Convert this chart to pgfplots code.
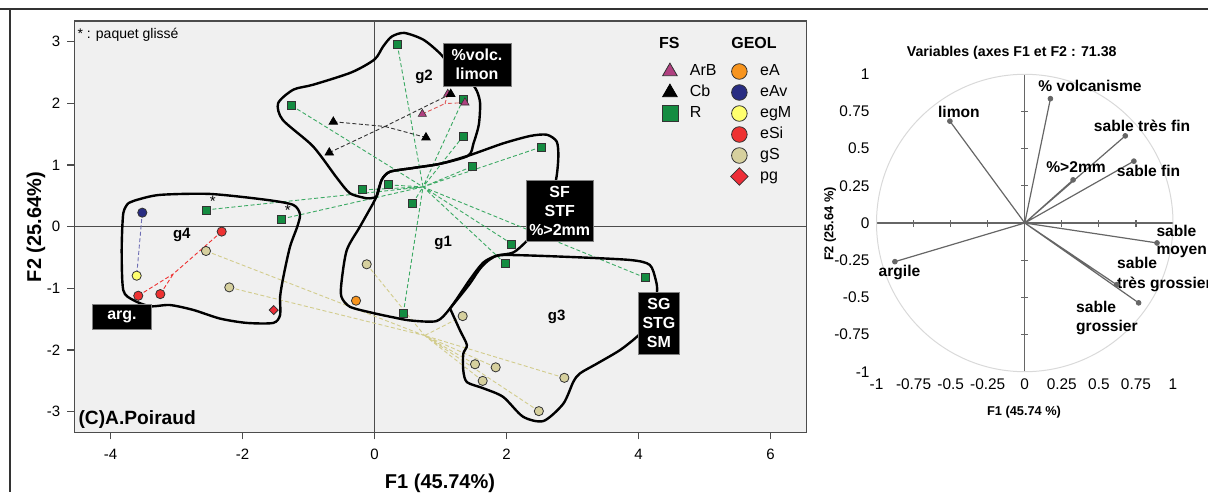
\documentclass[border=0pt]{standalone}
\usepackage{pgfplots}
\pgfplotsset{compat=1.18}
\usepackage{fontspec}
\setmainfont{Liberation Sans}
\setsansfont{Liberation Sans}
\definecolor{cR}{RGB}{20,140,65}
\definecolor{cArB}{RGB}{176,64,128}
\definecolor{ceA}{RGB}{247,148,30}
\definecolor{ceAv}{RGB}{40,44,130}
\definecolor{cegM}{RGB}{255,255,110}
\definecolor{ceSi}{RGB}{238,50,50}
\definecolor{cgS}{RGB}{214,208,158}
\definecolor{cpg}{RGB}{238,45,55}
\definecolor{bgc}{RGB}{240,240,240}
\definecolor{lR}{RGB}{60,170,100}
\definecolor{lgS}{RGB}{210,204,140}
\definecolor{lArB}{RGB}{225,90,90}
\definecolor{leAv}{RGB}{110,110,180}
\begin{document}
\begin{tikzpicture}
\useasboundingbox (0pt,0pt) rectangle (604pt,-246pt);
\draw[black!80, line width=0.7pt] (0pt,-4.5pt) -- (604pt,-4.5pt);
\draw[black!80, line width=0.7pt] (5pt,-4.5pt) -- (5pt,-246pt);
\begin{axis}[
  at={(37.15pt,-216.15pt)}, anchor=south west,
  width=366.2pt, height=205.65pt, scale only axis,
  xmin=-4.548, xmax=6.548, ymin=-3.333, ymax=3.333,
  axis background/.style={fill=bgc},
  axis line style={black!70, line width=0.6pt},
  tick pos=left, tick align=outside, major tick length=3.5pt,
  tick style={black!70, line width=0.6pt},
  xtick={-4,-2,0,2,4,6}, xticklabels={-4,-2,0,2,4,6},
  ytick={-3,-2,-1,0,1,2,3}, yticklabels={-3,-2,-1,0,1,2,3},
  ticklabel style={font=\fontsize{7.5}{9}\selectfont},
  xticklabel style={yshift=-1.5pt},
  legend columns=2,
  legend style={at={(axis cs:4.12,2.74)}, anchor=north west, draw=none, fill=none,
    font=\fontsize{8}{9}\selectfont, row sep=1pt,
    nodes={inner sep=1pt, text height=6pt, text depth=1.5pt},
    /tikz/every odd column/.append style={column sep=5pt},
    /tikz/every even column/.append style={column sep=6pt}},
  legend cell align=left,
]
\draw[black!70, line width=0.5pt] (axis cs:0,-3.333) -- (axis cs:0,3.333);
\draw[black!70, line width=0.5pt] (axis cs:-4.548,0) -- (axis cs:6.548,0);
% dashed links to group centroids
\addplot[forget plot, lR, dash pattern=on 2pt off 1.2pt, line width=0.45pt, unbounded coords=jump] coordinates {
(0.345,2.955) (0.735,0.644) (nan,nan)
(-1.255,1.96) (0.735,0.644) (nan,nan)
(1.346,2.07) (0.735,0.644) (nan,nan)
(1.346,1.47) (0.735,0.644) (nan,nan)
(1.477,0.974) (0.735,0.644) (nan,nan)
(-0.18,0.596) (0.735,0.644) (nan,nan)
(0.21,0.677) (0.735,0.644) (nan,nan)
(0.58,0.38) (0.735,0.644) (nan,nan)
(-2.553,0.271) (0.735,0.644) (nan,nan)
(-1.406,0.125) (0.735,0.644) (nan,nan)
(2.523,1.29) (0.735,0.644) (nan,nan)
(2.08,-0.28) (0.735,0.644) (nan,nan)
(1.977,-0.595) (0.735,0.644) (nan,nan)
(4.103,-0.828) (0.735,0.644) (nan,nan)
(0.436,-1.406) (0.735,0.644)
};
\addplot[forget plot, black!80, dash pattern=on 2pt off 1.2pt, line width=0.45pt, unbounded coords=jump] coordinates {
(-0.624,1.70) (0.157,1.624) (nan,nan)
(-0.685,1.20) (0.157,1.624) (nan,nan)
(0.78,1.445) (0.157,1.624) (nan,nan)
(1.155,2.15) (0.157,1.624)
};
\addplot[forget plot, lArB, dash pattern=on 2pt off 1.2pt, line width=0.45pt, unbounded coords=jump] coordinates {
(1.11,2.15) (1.068,1.995) (nan,nan)
(0.725,1.825) (1.068,1.995) (nan,nan)
(1.37,2.01) (1.068,1.995)
};
\addplot[forget plot, ceSi, dash pattern=on 2pt off 1.2pt, line width=0.45pt, unbounded coords=jump] coordinates {
(-2.315,-0.08) (-3.046,-0.764) (nan,nan)
(-3.579,-1.12) (-3.046,-0.764) (nan,nan)
(-3.245,-1.093) (-3.046,-0.764)
};
\addplot[forget plot, leAv, dash pattern=on 2pt off 1.2pt, line width=0.45pt] coordinates {
(-3.518,0.227) (-3.603,-0.795)
};
\addplot[forget plot, lgS, dash pattern=on 2pt off 1.2pt, line width=0.45pt, unbounded coords=jump] coordinates {
(-2.553,-0.394) (0.759,-1.765) (nan,nan)
(-2.2,-0.984) (0.759,-1.765) (nan,nan)
(-0.118,-0.61) (0.759,-1.765) (nan,nan)
(1.336,-1.45) (0.759,-1.765) (nan,nan)
(1.523,-2.23) (0.759,-1.765) (nan,nan)
(1.836,-2.28) (0.759,-1.765) (nan,nan)
(1.639,-2.5) (0.759,-1.765) (nan,nan)
(2.876,-2.45) (0.759,-1.765) (nan,nan)
(2.49,-2.99) (0.759,-1.765)
};
% group outlines
\addplot[forget plot, black, line width=1.2pt, smooth, tension=0.45] coordinates {
(-0.12,0.46) (-0.37,0.54) (-0.57,0.79) (-0.93,1.30) (-1.39,1.73) (-1.46,2.0) (-1.23,2.22) (-0.93,2.30) (-0.35,2.5) (0.0,2.71) (0.13,2.92) (0.26,3.08) (0.45,3.14) (0.74,3.03) (0.99,2.81) (1.2,2.55) (1.45,2.35) (1.55,2.2) (1.6,2.0) (1.58,1.65) (1.5,1.35) (1.42,1.15) (1.0,1.02) (0.58,0.95) (0.235,0.89) (0.11,0.76) (0.03,0.49) (-0.12,0.46)
};
\addplot[forget plot, black, line width=1.2pt, smooth, tension=0.45] coordinates {
(0.03,0.49) (0.11,0.76) (0.235,0.89) (0.58,0.95) (1.0,1.02) (1.447,1.16) (1.95,1.35) (2.36,1.47) (2.61,1.49) (2.76,1.38) (2.785,1.14) (2.75,0.76) (2.6,0.1) (2.3,-0.24) (2.1,-0.42) (1.85,-0.47) (1.65,-0.58) (1.45,-0.85) (1.144,-1.325) (0.94,-1.53) (0.54,-1.52) (0.285,-1.47) (-0.02,-1.40) (-0.37,-1.30) (-0.50,-1.14) (-0.50,-0.9) (-0.42,-0.38) (-0.22,0.0) (-0.02,0.38) (0.03,0.49)
};
\addplot[forget plot, black, line width=1.2pt, smooth, tension=0.45] coordinates {
(1.144,-1.325) (1.3,-1.12) (1.447,-0.92) (1.6,-0.68) (1.75,-0.53) (1.95,-0.46) (2.86,-0.487) (3.87,-0.54) (4.17,-0.62) (4.26,-0.86) (4.28,-1.06) (4.2,-1.5) (4.0,-1.76) (3.72,-2.0) (3.37,-2.22) (3.11,-2.38) (3.01,-2.52) (2.86,-2.87) (2.56,-3.15) (2.25,-3.08) (1.95,-2.76) (1.65,-2.62) (1.40,-2.52) (1.345,-2.33) (1.345,-2.06) (1.40,-1.92) (1.295,-1.68) (1.144,-1.325)
};
\addplot[forget plot, black, line width=1.2pt, smooth, tension=0.45] coordinates {
(-3.73,0.38) (-3.6,0.434) (-3.25,0.515) (-2.49,0.53) (-1.633,0.434) (-1.23,0.352) (-1.129,0.2) (-1.17,0.0) (-1.28,-0.325) (-1.38,-0.81) (-1.43,-1.136) (-1.43,-1.43) (-1.533,-1.56) (-1.936,-1.56) (-2.34,-1.49) (-2.745,-1.35) (-3.1,-1.27) (-3.4,-1.29) (-3.655,-1.19) (-3.806,-1.03) (-3.83,-0.378) (-3.806,0.217) (-3.73,0.38)
};
% points
\addplot[forget plot, only marks, mark=square*, mark size=2pt, mark options={fill=cR, draw=black!80, line width=0.4pt}] coordinates {
(0.345,2.955) (-1.255,1.96) (1.346,2.07) (1.346,1.47) (1.477,0.974) (-0.18,0.596) (0.21,0.677) (0.58,0.38) (-2.553,0.271) (-1.406,0.125) (2.523,1.29) (2.08,-0.28) (1.977,-0.595) (4.103,-0.828) (0.436,-1.406)
};
\addplot[forget plot, only marks, mark=triangle*, mark size=2.4pt, mark options={fill=cArB, draw=black!80, line width=0.3pt}] coordinates {
(1.11,2.15) (0.725,1.825) (1.37,2.01)
};
\addplot[forget plot, only marks, mark=triangle*, mark size=2.4pt, mark options={fill=black, draw=black}] coordinates {
(-0.624,1.70) (-0.685,1.20) (0.78,1.445) (1.155,2.15)
};
\addplot[forget plot, only marks, mark=*, mark size=2.3pt, mark options={fill=ceA, draw=black!80, line width=0.4pt}] coordinates {(-0.28,-1.20)};
\addplot[forget plot, only marks, mark=*, mark size=2.3pt, mark options={fill=ceAv, draw=black!80, line width=0.4pt}] coordinates {(-3.518,0.227)};
\addplot[forget plot, only marks, mark=*, mark size=2.3pt, mark options={fill=cegM, draw=black!80, line width=0.4pt}] coordinates {(-3.603,-0.795)};
\addplot[forget plot, only marks, mark=*, mark size=2.3pt, mark options={fill=ceSi, draw=black!80, line width=0.4pt}] coordinates {(-2.315,-0.08) (-3.579,-1.12) (-3.245,-1.093)};
\addplot[forget plot, only marks, mark=*, mark size=2.3pt, mark options={fill=cgS, draw=black!80, line width=0.4pt}] coordinates {
(-2.553,-0.394) (-2.2,-0.984) (-0.118,-0.61) (1.336,-1.45) (1.523,-2.23) (1.836,-2.28) (1.639,-2.5) (2.876,-2.45) (2.49,-2.99)
};
\addplot[forget plot, only marks, mark=square*, mark size=1.6pt, mark options={rotate=45, fill=cpg, draw=black!80, line width=0.4pt}] coordinates {(-1.527,-1.352)};
% legend
\addlegendimage{only marks, mark=triangle*, mark size=4.2pt, mark options={fill=cArB, draw=black!80, line width=0.4pt}}
\addlegendentry{ArB}
\addlegendimage{only marks, mark=*, mark size=3.9pt, mark options={fill=ceA, draw=black!80, line width=0.4pt}}
\addlegendentry{eA}
\addlegendimage{only marks, mark=triangle*, mark size=4.2pt, mark options={fill=black, draw=black}}
\addlegendentry{Cb}
\addlegendimage{only marks, mark=*, mark size=3.9pt, mark options={fill=ceAv, draw=black!80, line width=0.4pt}}
\addlegendentry{eAv}
\addlegendimage{only marks, mark=square*, mark size=4pt, mark options={fill=cR, draw=black!80, line width=0.4pt}}
\addlegendentry{R}
\addlegendimage{only marks, mark=*, mark size=3.9pt, mark options={fill=cegM, draw=black!80, line width=0.4pt}}
\addlegendentry{egM}
\addlegendimage{empty legend}
\addlegendentry{}
\addlegendimage{only marks, mark=*, mark size=3.9pt, mark options={fill=ceSi, draw=black!80, line width=0.4pt}}
\addlegendentry{eSi}
\addlegendimage{empty legend}
\addlegendentry{}
\addlegendimage{only marks, mark=*, mark size=3.9pt, mark options={fill=cgS, draw=black!80, line width=0.4pt}}
\addlegendentry{gS}
\addlegendimage{empty legend}
\addlegendentry{}
\addlegendimage{only marks, mark=square*, mark size=3.1pt, mark options={rotate=45, fill=cpg, draw=black!80, line width=0.4pt}}
\addlegendentry{pg}
% annotations
\node[font=\fontsize{7.5}{9}\selectfont] at (axis cs:-2.45,0.405) {*};
\node[font=\fontsize{7.5}{9}\selectfont] at (axis cs:-1.315,0.26) {*};
\node[font=\bfseries\fontsize{7.5}{9}\selectfont] at (axis cs:0.75,2.435) {g2};
\node[font=\bfseries\fontsize{7.5}{9}\selectfont] at (axis cs:1.04,-0.26) {g1};
\node[font=\bfseries\fontsize{7.5}{9}\selectfont] at (axis cs:2.76,-1.46) {g3};
\node[font=\bfseries\fontsize{7.5}{9}\selectfont] at (axis cs:-2.92,-0.135) {g4};
\node[fill=black, draw=black!50, line width=0.4pt, text=white, font=\bfseries\fontsize{8}{9.5}\selectfont, align=center, inner sep=0pt, minimum width=33.9pt, minimum height=21.7pt] at (axis cs:1.553,2.625) {\%volc.\\limon};
\node[fill=black, draw=black!50, line width=0.4pt, text=white, font=\bfseries\fontsize{8}{9.5}\selectfont, align=center, inner sep=0pt, minimum width=33.7pt, minimum height=30.5pt] at (axis cs:2.806,0.252) {SF\\STF\\\%>2mm};
\node[fill=black, draw=black!50, line width=0.4pt, text=white, font=\bfseries\fontsize{8}{9.5}\selectfont, align=center, inner sep=0pt, minimum width=20.8pt, minimum height=31pt] at (axis cs:4.31,-1.568) {SG\\STG\\SM};
\node[fill=black, draw=black!50, line width=0.4pt, text=white, font=\bfseries\fontsize{8}{9.5}\selectfont, align=center, inner sep=0pt, minimum width=29.7pt, minimum height=12.5pt] at (axis cs:-3.826,-1.458) {arg.};
\node[anchor=west, inner sep=0pt, font=\fontsize{7}{8}\selectfont] at (axis cs:-4.505,3.107) {* : paquet glissé};
\node[anchor=west, inner sep=0pt, font=\bfseries\fontsize{9.6}{11}\selectfont] at (axis cs:-4.49,-3.133) {(C)A.Poiraud};
\end{axis}
% headers of legend and axis titles
\begin{scope}[x=0.5pt, y=-0.5pt]
\node[font=\bfseries\fontsize{8}{9}\selectfont] at (669.3,43.3) {FS};
\node[font=\bfseries\fontsize{8}{9}\selectfont] at (754,43.3) {GEOL};
\node[font=\bfseries\fontsize{10}{12}\selectfont] at (440,483) {F1 (45.74\%)};
\node[font=\bfseries\fontsize{10}{12}\selectfont, rotate=90] at (36,227) {F2 (25.64\%)};
\node[font=\bfseries\fontsize{7.1}{8.5}\selectfont] at (1011.7,53) {Variables (axes F1 et F2 : 71.38};
\node[font=\bfseries\fontsize{6.4}{8}\selectfont, rotate=90] at (830,224) {F2 (25.64 \%)};
\node[font=\bfseries\fontsize{6.4}{8}\selectfont] at (1024,412) {F1 (45.74 \%)};
\end{scope}
% right: correlation circle
\begin{axis}[
  at={(438.25pt,-185.85pt)}, anchor=south west,
  width=148.25pt, height=148.7pt, scale only axis,
  xmin=-1, xmax=1, ymin=-1, ymax=1,
  axis x line*=bottom, axis y line*=left,
  axis line style={draw=none},
  major tick length=0pt, tick style={draw=none},
  xtick={-1,-0.75,-0.5,-0.25,0,0.25,0.5,0.75,1},
  xticklabels={-1,-0.75,-0.5,-0.25,0,0.25,0.5,0.75,1},
  ytick={-1,-0.75,-0.5,-0.25,0,0.25,0.5,0.75,1},
  yticklabels={-1,-0.75,-0.5,-0.25,0,0.25,0.5,0.75,1},
  ticklabel style={font=\fontsize{7.7}{9}\selectfont},
]
\addplot[draw=none, forget plot] coordinates {(0,0)};
\end{axis}
\begin{axis}[
  at={(438.25pt,-185.85pt)}, anchor=south west,
  width=148.25pt, height=148.7pt, scale only axis,
  xmin=-1, xmax=1, ymin=-1, ymax=1,
  axis lines=center,
  axis line style={black!60, line width=0.7pt, -},
  xtick={-0.75,-0.5,-0.25,0.25,0.5,0.75}, ytick={-0.75,-0.5,-0.25,0.25,0.5,0.75},
  xticklabels={}, yticklabels={},
  tick align=center, major tick length=3.5pt,
  tick style={black!60, line width=0.6pt},
  clip=false,
]
\draw[black!15, line width=0.5pt] (axis cs:0,0) circle [radius=1];
\addplot[forget plot, black!60, line width=0.6pt, unbounded coords=jump] coordinates {
(0,0) (0.173,0.836) (nan,nan)
(0,0) (-0.505,0.685) (nan,nan)
(0,0) (0.678,0.586) (nan,nan)
(0,0) (0.736,0.416) (nan,nan)
(0,0) (0.326,0.29) (nan,nan)
(0,0) (0.892,-0.134) (nan,nan)
(0,0) (0.62,-0.415) (nan,nan)
(0,0) (0.768,-0.537) (nan,nan)
(0,0) (-0.876,-0.26)
};
\addplot[forget plot, only marks, mark=*, mark size=1.2pt, black!60] coordinates {
(0.173,0.836) (-0.505,0.685) (0.678,0.586) (0.736,0.416) (0.326,0.29) (0.892,-0.134) (0.62,-0.415) (0.768,-0.537) (-0.876,-0.26)
};
\node[font=\bfseries\fontsize{7.8}{9.5}\selectfont] at (axis cs:0.44,0.923) {\% volcanisme};
\node[font=\bfseries\fontsize{7.8}{9.5}\selectfont] at (axis cs:-0.444,0.75) {limon};
\node[font=\bfseries\fontsize{7.8}{9.5}\selectfont] at (axis cs:0.791,0.654) {sable très fin};
\node[font=\bfseries\fontsize{7.8}{9.5}\selectfont] at (axis cs:0.346,0.374) {\%>2mm};
\node[font=\bfseries\fontsize{7.8}{9.5}\selectfont] at (axis cs:0.835,0.347) {sable fin};
\node[font=\bfseries\fontsize{7.8}{9}\selectfont, anchor=west, align=left, inner sep=0pt] at (axis cs:0.886,-0.122) {sable\\moyen};
\node[font=\bfseries\fontsize{7.8}{10}\selectfont, anchor=west, align=left, inner sep=0pt] at (axis cs:0.621,-0.348) {sable\\très grossier};
\node[font=\bfseries\fontsize{7.8}{9.7}\selectfont, anchor=west, align=left, inner sep=0pt] at (axis cs:0.344,-0.637) {sable\\grossier};
\node[font=\bfseries\fontsize{7.8}{9.5}\selectfont] at (axis cs:-0.845,-0.332) {argile};
\end{axis}
\end{tikzpicture}
\end{document}
